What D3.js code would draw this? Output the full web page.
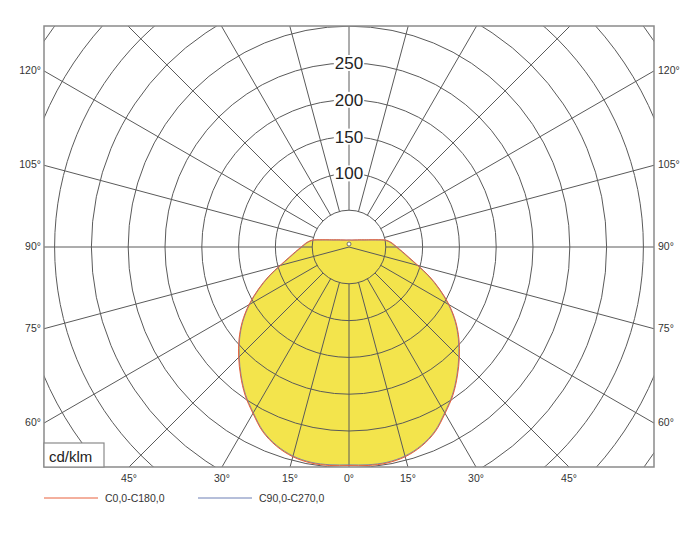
<!DOCTYPE html>
<html>
<head>
<meta charset="utf-8">
<script src="https://cdn.jsdelivr.net/npm/d3@7"></script>
<style>
  html, body { margin: 0; padding: 0; background: #ffffff; }
  svg { display: block; font-family: "Liberation Sans", Arial, sans-serif; }
</style>
</head>
<body>
<svg id="chart" width="694" height="554"></svg>
<script>
// ---- data ----
const gammaAngles = [0,5,10,15,20,25,30,35,40,45,50,55,60,65,70,75,80,85,90,95,100,105,110,115,120,125,130,135,140,145,150,155,160,165,170,175,180];
const c0c180  = [297,298,298,295,288,277,261,246,229,212,195,177,157,136,116,97,83,73,65,59,52,38,28.5,23,19.5,17,15,13.6,12.5,11.7,11,10.5,10.1,9.8,9.7,9.6,9.5];
const c90c270 = [296,297,297,294,287,276,260,245,228,211,194,176,156,135,115,96,82,72,64,58,51,37,28,22.5,19,16.6,14.7,13.3,12.3,11.5,10.8,10.3,9.9,9.7,9.6,9.5,9.4];
const ringValues = [50,100,150,200,250,300,350,400,450,500];
const ringLabels = [100,150,200,250];
const spokeAngles = [0,15,30,45,60,75,90,105,120,135,150,165,180];
const sideLabels = [120,105,90,75,60];
const bottomLabels = [-45,-30,-15,0,15,30,45];
const legendNames = ["C0,0-C180,0","C90,0-C270,0"];
const unitLabel = "cd/klm";

// ---- layout ----
const svg = d3.select("#chart");
const cx = 349, cy = 247;
const frame = {x0: 44, x1: 654, y0: 26, y1: 467};
const r = d3.scaleLinear().domain([0, 50]).range([0, 36.8]);
const rad = d => d * Math.PI / 180;

svg.append("defs").append("clipPath").attr("id","frameClip")
  .append("rect").attr("x",frame.x0).attr("y",frame.y0)
  .attr("width",frame.x1-frame.x0).attr("height",frame.y1-frame.y0);

const plot = svg.append("g").attr("clip-path","url(#frameClip)");

// closed curve points (d3.lineRadial angle: clockwise from up; nadir = PI)
function curvePoints(vals) {
  const pts = [];
  for (let i = gammaAngles.length - 1; i >= 1; i--) pts.push([Math.PI - rad(gammaAngles[i]), r(vals[i])]);
  for (let i = 0; i < gammaAngles.length - 1; i++) pts.push([Math.PI + rad(gammaAngles[i]), r(vals[i])]);
  return pts;
}
const radialLine = d3.lineRadial().angle(d => d[0]).radius(d => d[1]).curve(d3.curveCatmullRomClosed.alpha(0.5));

// fill under grid
plot.append("path").attr("transform", `translate(${cx},${cy})`)
  .attr("d", radialLine(curvePoints(c0c180))).attr("fill", "#f3e44c");

// grid
const grid = plot.append("g").attr("stroke", "#5a5a5a").attr("stroke-width", 1).attr("fill", "none");
ringValues.forEach(v => {
  grid.append("circle").attr("cx", cx).attr("cy", cy).attr("r", r(v));
});
const rOuter = r(700);
spokeAngles.forEach(g => {
  [-1, 1].forEach(side => {
    if ((g === 0 || g === 180) && side === 1) return;
    const start = (g === 75) ? 0 : r(50);
    const sx = Math.sin(rad(g)) * side, sy = Math.cos(rad(g));
    grid.append("line")
      .attr("x1", cx + sx * start).attr("y1", cy + sy * start)
      .attr("x2", cx + sx * rOuter).attr("y2", cy + sy * rOuter);
  });
});

// curve outlines
const curves = plot.append("g").attr("transform", `translate(${cx},${cy})`).attr("fill", "none");
curves.append("path").attr("d", radialLine(curvePoints(c90c270)))
  .attr("stroke", "#6d7fb5").attr("stroke-width", 0.9);
curves.append("path").attr("d", radialLine(curvePoints(c0c180)))
  .attr("stroke", "#e8603c").attr("stroke-width", 1);

// center marker
svg.append("circle").attr("cx", cx).attr("cy", cy - 3).attr("r", 2)
  .attr("fill", "#fff").attr("stroke", "#555").attr("stroke-width", 0.8);

// ring labels
ringLabels.forEach(v => {
  const y = cy - r(v);
  const t = svg.append("text").attr("x", cx).attr("y", y + 6)
    .attr("text-anchor", "middle").attr("font-size", 17).attr("fill", "#222").text(v);
  const bb = t.node().getBBox();
  svg.insert("rect", () => t.node()).attr("x", bb.x - 1).attr("y", y - 8)
    .attr("width", bb.width + 2).attr("height", 16).attr("fill", "#fff");
});

// frame
svg.append("rect").attr("x", frame.x0).attr("y", frame.y0)
  .attr("width", frame.x1 - frame.x0).attr("height", frame.y1 - frame.y0)
  .attr("fill", "none").attr("stroke", "#8a8a8a").attr("stroke-width", 1.5);

// side labels
const halfW = cx - frame.x0;
sideLabels.forEach(g => {
  const y = cy + halfW * Math.cos(rad(g)) / Math.sin(rad(g));
  svg.append("text").attr("x", frame.x0 - 3).attr("y", y + 3)
    .attr("text-anchor", "end").attr("font-size", 10.5).attr("fill", "#333").text(g + "°");
  svg.append("text").attr("x", frame.x1 + 4).attr("y", y + 3)
    .attr("text-anchor", "start").attr("font-size", 10.5).attr("fill", "#333").text(g + "°");
});
// bottom labels
const halfH = frame.y1 - cy;
bottomLabels.forEach(g => {
  const x = cx + halfH * Math.tan(rad(g));
  svg.append("text").attr("x", x).attr("y", 482)
    .attr("text-anchor", "middle").attr("font-size", 10.5).attr("fill", "#333").text(Math.abs(g) + "°");
});

// unit box
svg.append("rect").attr("x", frame.x0).attr("y", 443).attr("width", 60).attr("height", frame.y1 - 443)
  .attr("fill", "#fff").attr("stroke", "#8a8a8a").attr("stroke-width", 1.2);
svg.append("text").attr("x", frame.x0 + 5).attr("y", 462).attr("font-size", 15).attr("fill", "#222").text(unitLabel);

// legend
const legendColors = ["#e8603c", "#6d7fb5"];
const legendX = [44, 198];
legendNames.forEach((n, i) => {
  svg.append("line").attr("x1", legendX[i]).attr("x2", legendX[i] + 54).attr("y1", 498).attr("y2", 498)
    .attr("stroke", legendColors[i]).attr("stroke-width", 1);
  svg.append("text").attr("x", legendX[i] + 61).attr("y", 501.5).attr("font-size", 10.5).attr("fill", "#333").text(n);
});
</script>
</body>
</html>
